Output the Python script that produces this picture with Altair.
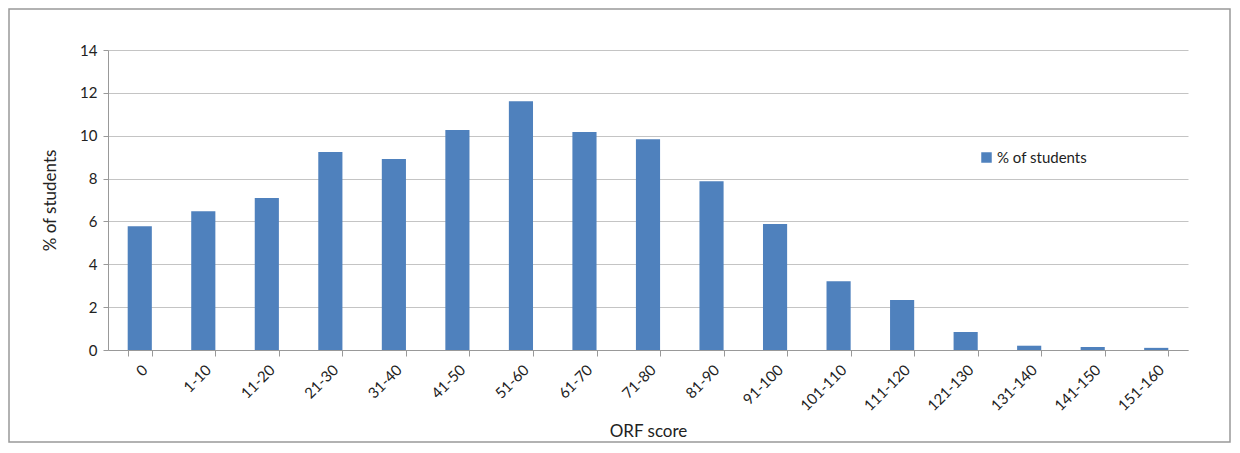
import altair as alt
import pandas as pd

categories = ["0", "1-10", "11-20", "21-30", "31-40", "41-50", "51-60", "61-70",
              "71-80", "81-90", "91-100", "101-110", "111-120", "121-130",
              "131-140", "141-150", "151-160"]
values = [5.78, 6.47, 7.09, 9.24, 8.91, 10.27, 11.61, 10.17, 9.84, 7.87, 5.88,
          3.21, 2.33, 0.84, 0.2, 0.14, 0.1]
series = "% of students"

df = pd.DataFrame({"cat": categories, "val": values, "series": [series] * len(categories)})

FONT = "Lato"

bars = alt.Chart(df).mark_bar(color="#4F81BD").encode(
    x=alt.X("cat:N", sort=categories, title="ORF score",
            scale=alt.Scale(paddingInner=0.62, paddingOuter=0.31),
            axis=alt.Axis(labelAngle=-45, tickBand="extent", grid=False,
                          labelFontSize=15, labelColor="#222", labelPadding=6,
                          titleFontSize=17, titleFontWeight="normal", titleColor="#222",
                          titlePadding=10, domainColor="#999", tickColor="#999", tickSize=6)),
    y=alt.Y("val:Q", title="% of students",
            scale=alt.Scale(domain=[0, 14]),
            axis=alt.Axis(values=[0, 2, 4, 6, 8, 10, 12, 14], gridColor="#c4c4c4",
                          labelFontSize=15, labelColor="#222", labelPadding=6,
                          titleFontSize=17, titleFontWeight="normal", titleColor="#222",
                          titlePadding=20, domainColor="#999", tickColor="#999", tickSize=5)),
    color=alt.Color("series:N", scale=alt.Scale(range=["#4F81BD"]),
                    legend=alt.Legend(title=None, orient="none", legendX=871, legendY=100,
                                      symbolType="square", symbolSize=110,
                                      labelFontSize=15, labelColor="#222", labelOffset=3))
)

frame = alt.Chart(pd.DataFrame({"a": [0]})).mark_rect(
    fill="transparent", stroke="#999", strokeWidth=1.5, clip=False
).encode(x=alt.value(-99), x2=alt.value(1122), y=alt.value(-41), y2=alt.value(392))

chart = alt.layer(bars, frame).properties(
    width=1080, height=300,
    padding={"left": 100, "top": 42, "right": 44, "bottom": 94},
    autosize=alt.AutoSizeParams(type="none")
).configure(font=FONT).configure_view(stroke=None)

chart.save("out.html", embed_options={"renderer": "svg", "actions": False})
